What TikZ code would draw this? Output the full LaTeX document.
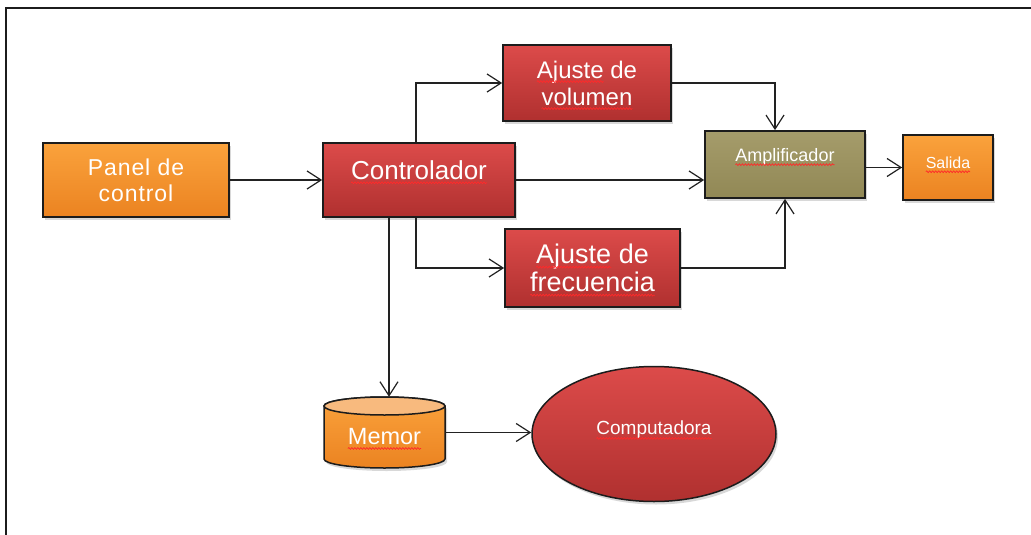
\documentclass[tikz,border=0pt]{standalone}
\usepackage{fontspec}
\setmainfont{Liberation Sans}
\usetikzlibrary{arrows.meta,shadows,calc,shapes.geometric,decorations.pathmorphing}
\definecolor{redT}{HTML}{DC4B4A}
\definecolor{redB}{HTML}{B0302F}
\definecolor{orT}{HTML}{FAA23C}
\definecolor{orB}{HTML}{EB8321}
\definecolor{olT}{HTML}{A59C6B}
\definecolor{olB}{HTML}{918855}
\definecolor{memtop}{HTML}{F8BA7E}
\definecolor{edge}{HTML}{1C1C1C}
\definecolor{linec}{HTML}{222222}
\definecolor{squig}{HTML}{FF2A2A}
\newlength\rwlen
\newcommand\rw[1]{\settowidth\rwlen{#1}#1\tikz[overlay,baseline=0pt,x=1pt,y=1pt]\draw[squig,line width=0.7pt,decorate,decoration={snake,amplitude=0.9pt,segment length=3pt}] (-\rwlen,-3.5pt) -- (0pt,-3.5pt);}
\begin{document}
\begin{tikzpicture}[x=1pt,y=-1pt,
  box/.style={draw=edge, line width=1.7pt, inner sep=0pt,
    drop shadow={shadow xshift=2pt,shadow yshift=-3pt,opacity=0.3}},
  redbox/.style={box, top color=redT, bottom color=redB},
  orbox/.style={box, top color=orT, bottom color=orB},
  olbox/.style={box, top color=olT, bottom color=olB},
  lbl/.style={text=white, align=center, inner sep=0pt},
  arr/.style={draw=linec, line width=1.2pt,
    -{Straight Barb[length=14pt,width=18pt]}}]
\useasboundingbox (0,0) rectangle (1031,535);
\fill[white] (0,0) rectangle (1031,535);
\draw[line width=2pt, edge] (6,540) -- (6,8) -- (1040,8);

% boxes
\node[orbox, minimum width=186pt, minimum height=74pt] (panel) at (136,180) {};
\node[lbl, font=\fontsize{23}{26}\selectfont] (panelt) at (panel.center)
  {\addfontfeature{LetterSpace=4}Panel de\\\addfontfeature{LetterSpace=4}control};

\node[redbox, minimum width=192pt, minimum height=74pt] (ctrl) at (419,180) {};
\node[lbl, font=\fontsize{26}{29}\selectfont] (ctrlt) at ([yshift=10pt]ctrl.center) {\rw{Controlador}};

\node[redbox, minimum width=168pt, minimum height=76pt] (vol) at (587,83) {};
\node[lbl, font=\fontsize{24}{27}\selectfont] (volt) at (vol.center)
  {\rw{Ajuste} de\\\rw{volumen}};

\node[redbox, minimum width=175pt, minimum height=78pt] (freq) at (592.5,268) {};
\node[lbl, font=\fontsize{27}{28}\selectfont] (freqt) at (freq.center)
  {\rw{Ajuste} de\\\rw{frecuencia}};

\node[olbox, minimum width=160pt, minimum height=67pt] (amp) at (785,164.5) {};
\node[lbl, font=\fontsize{18}{20}\selectfont] (ampt) at ([yshift=8pt]amp.center) {\rw{Amplificador}};

\node[orbox, minimum width=90pt, minimum height=65pt] (sal) at (948,167.5) {};
\node[lbl, font=\fontsize{16}{18}\selectfont] (salt) at ([yshift=5pt]sal.center) {\rw{Salida}};

% cylinder (Memor)
\path[draw=edge, line width=1.5pt, top color=orT, bottom color=orB,
  drop shadow={shadow xshift=2pt,shadow yshift=-3pt,opacity=0.3}]
  (324,406) -- (324,459) arc (180:0:60.5 and 9) -- (445,406)
  arc (0:-180:60.5 and 9) -- cycle;
\draw[edge, line width=1.5pt, fill=memtop] (384.5,406) ellipse (60.5 and 9);
\node[inner sep=0pt, minimum width=121pt, minimum height=71pt] (mem) at (384.5,432.5) {};
\node[lbl, font=\fontsize{23.5}{26}\selectfont] (memt) at (384.5,437) {\rw{Memor}};

% ellipse (Computadora)
\node[ellipse, draw=edge, line width=1.5pt, top color=redT, bottom color=redB,
  minimum width=244pt, minimum height=135pt, inner sep=0pt,
  drop shadow={shadow xshift=2pt,shadow yshift=-3pt,opacity=0.3}] (comp) at (654,434) {};
\node[lbl, font=\fontsize{19}{21}\selectfont] (compt) at ([yshift=4pt]comp.center) {\rw{Computadora}};

% connectors
\draw[arr] (panel.east) -- (ctrl.west);
\draw[arr] ([xshift=-3pt]ctrl.north) |- (vol.west);
\draw[arr] ([xshift=-3pt]ctrl.south) |- (freq.west);
\draw[arr] ([xshift=-30pt]ctrl.south) -- ([xshift=-30pt]ctrl.south |- mem.north);
\draw[arr] (ctrl.east) -- (ctrl.east -| amp.west);
\draw[arr] (vol.east) -| ([xshift=-10pt]amp.north);
\draw[arr] (freq.east) -| (amp.south);
\draw[arr] (sal.west -| amp.east) -- (sal.west);
\draw[arr] (mem.east) -- (mem.east -| comp.west);
\end{tikzpicture}
\end{document}
